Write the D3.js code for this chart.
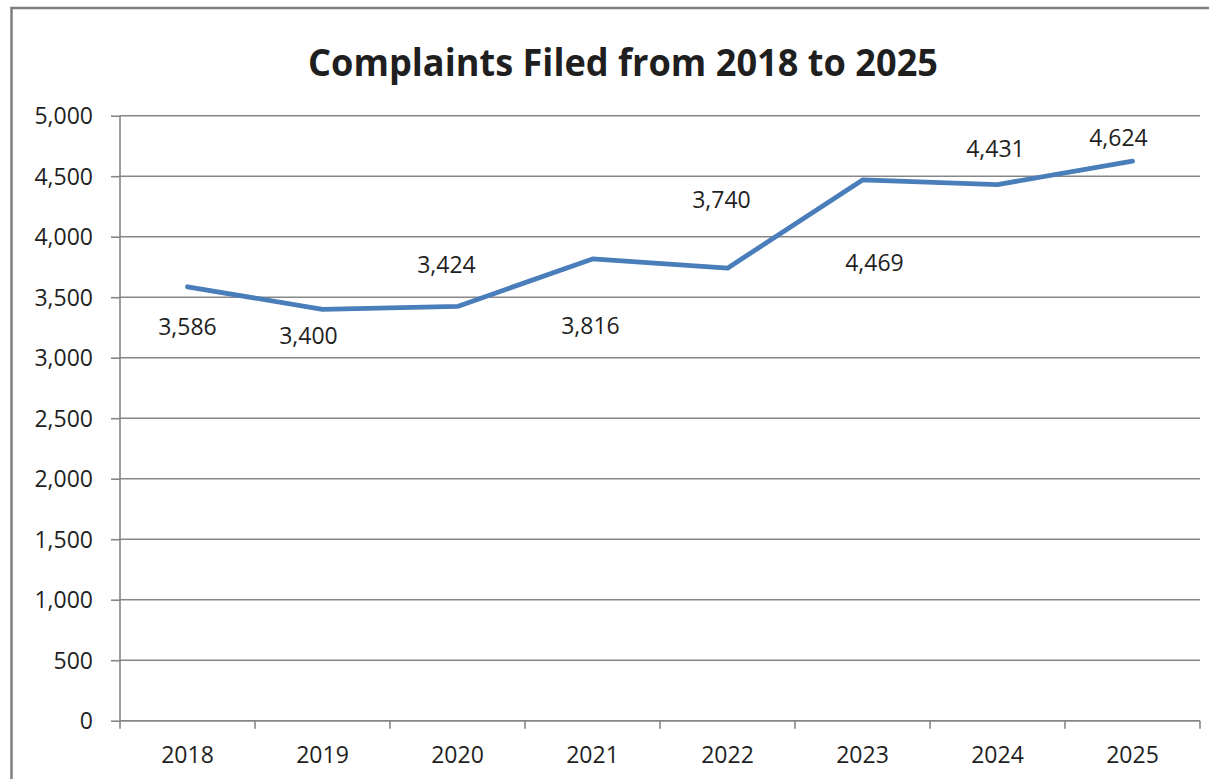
<!DOCTYPE html>
<html>
<head>
<meta charset="utf-8">
<script src="https://cdn.jsdelivr.net/npm/d3@7"></script>
<style>
  body { margin: 0; background: #fff; }
  svg { display: block; }
  text { font-family: "Open Sans", sans-serif; fill: #1f1f1f; }
</style>
</head>
<body>
<div id="chart"></div>
<script>
var years = ["2018", "2019", "2020", "2021", "2022", "2023", "2024", "2025"];
var complaints = [3586, 3400, 3424, 3816, 3740, 4469, 4431, 4624];
var yTicks = [0, 500, 1000, 1500, 2000, 2500, 3000, 3500, 4000, 4500, 5000];
// where each data label sits, relative to its point (dx, dy)
var labelOffsets = [[0, 40], [-14, 26], [-11, -42], [-2, 67], [-6, -68], [12, 83], [-2, -36], [-14, -23]];

var width = 1209, height = 779;
var margin = {top: 116, right: 9, bottom: 58, left: 120};

var svg = d3.select("#chart")
    .append("svg")
    .attr("width", width)
    .attr("height", height);

// outer frame
svg.append("rect")
    .attr("x", 11.5)
    .attr("y", 8)
    .attr("width", width + 20)
    .attr("height", height + 20)
    .attr("fill", "none")
    .attr("stroke", "#7f7f7f")
    .attr("stroke-width", 2.5);

var xScale = d3.scaleBand()
    .domain(years)
    .range([margin.left, width - margin.right]);

var yScale = d3.scaleLinear()
    .domain([0, 5000])
    .range([height - margin.bottom - 0.3, margin.top - 0.3]);

// gridlines
svg.append("g")
    .attr("class", "grid")
    .selectAll("line")
    .data(yTicks)
    .enter()
    .append("line")
    .attr("x1", margin.left)
    .attr("x2", width - margin.right)
    .attr("y1", function(d) { return yScale(d); })
    .attr("y2", function(d) { return yScale(d); })
    .attr("stroke", "#878787")
    .attr("stroke-width", 1.6);

// y axis
var yAxis = svg.append("g")
    .attr("transform", "translate(" + margin.left + ",0)")
    .call(d3.axisLeft(yScale)
        .tickValues(yTicks)
        .tickSize(9)
        .tickPadding(18)
        .tickFormat(d3.format(",")));

// x axis, ticks on band edges
var xAxis = svg.append("g")
    .attr("transform", "translate(0," + yScale(0) + ")")
    .call(d3.axisBottom(xScale).tickSize(0).tickPadding(26));

xAxis.selectAll(".edge")
    .data(d3.range(years.length + 1))
    .enter()
    .append("line")
    .attr("class", "edge")
    .attr("x1", function(i) { return margin.left + i * xScale.step(); })
    .attr("x2", function(i) { return margin.left + i * xScale.step(); })
    .attr("y1", 0)
    .attr("y2", 8)
    .attr("stroke", "#878787")
    .attr("stroke-width", 1.6);

[yAxis, xAxis].forEach(function(ax) {
    ax.select(".domain").attr("stroke", "#878787").attr("stroke-width", 1.6);
    ax.selectAll(".tick line").attr("stroke", "#878787").attr("stroke-width", 1.6);
    ax.selectAll(".tick text")
        .style("font-family", "'Open Sans', sans-serif")
        .style("font-size", "23px")
        .attr("fill", "#1f1f1f");
});
yAxis.select(".domain").attr("d", "M0," + yScale(5000) + "V" + yScale(0));
xAxis.select(".domain").attr("d", "M" + margin.left + ",0H" + (width - margin.right));
yAxis.selectAll(".tick text").attr("dy", "0.36em");

// line
var line = d3.line()
    .x(function(d, i) { return xScale(years[i]) + xScale.bandwidth() / 2; })
    .y(function(d) { return yScale(d); });

svg.append("path")
    .datum(complaints)
    .attr("d", line)
    .attr("fill", "none")
    .attr("stroke", "#4a7ebb")
    .attr("stroke-width", 4.8)
    .attr("stroke-linecap", "round")
    .attr("stroke-linejoin", "round");

// data labels
svg.append("g")
    .selectAll("text")
    .data(complaints)
    .enter()
    .append("text")
    .attr("x", function(d, i) { return xScale(years[i]) + xScale.bandwidth() / 2 + labelOffsets[i][0]; })
    .attr("y", function(d, i) { return yScale(d) + labelOffsets[i][1]; })
    .attr("dy", "0.36em")
    .attr("text-anchor", "middle")
    .style("font-size", "23px")
    .text(function(d) { return d3.format(",")(d); });

// title
var title = svg.append("text")
    .attr("x", 623)
    .attr("y", 76)
    .attr("text-anchor", "middle")
    .style("font-size", "38px")
    .style("font-weight", "bold")
    .text("Complaints Filed from 2018 to 2025");

if (title.node().getComputedTextLength() > 630) {
    title.attr("textLength", 630).attr("lengthAdjust", "spacingAndGlyphs");
}
</script>
</body>
</html>
